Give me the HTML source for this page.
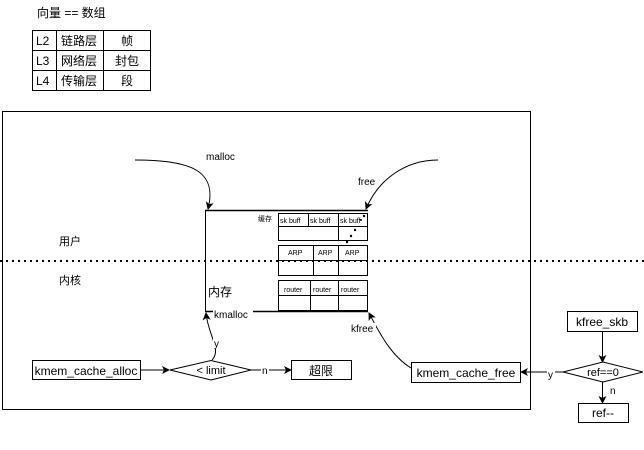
<!DOCTYPE html>
<html><head><meta charset="utf-8"><style>
html,body{margin:0;padding:0;background:#fff;}
svg{display:block;}
text{font-family:"Liberation Sans","Noto Sans CJK SC",sans-serif;fill:#000;}
</style></head><body>
<svg width="644" height="450" viewBox="0 0 644 450" xmlns="http://www.w3.org/2000/svg">
<defs>
<marker id="a" markerWidth="8" markerHeight="8" refX="7" refY="4" orient="auto" markerUnits="userSpaceOnUse">
<path d="M0,0 L8,4 L0,8 L2,4 Z" fill="#000"/>
</marker>
</defs>
<!-- top table -->
<text x="37" y="17" font-size="12">向量 == 数组</text>
<g fill="none" stroke="#000" stroke-width="1">
<rect x="32.5" y="30.5" width="118" height="60"/>
<line x1="32" y1="50.5" x2="151" y2="50.5"/>
<line x1="32" y1="70.5" x2="151" y2="70.5"/>
<line x1="56.5" y1="30" x2="56.5" y2="91"/>
<line x1="103.5" y1="30" x2="103.5" y2="91"/>
</g>
<g font-size="12">
<text x="36" y="45">L2</text><text x="61" y="45">链路层</text><text x="121" y="45">帧</text>
<text x="36" y="65">L3</text><text x="61" y="65">网络层</text><text x="115" y="65">封包</text>
<text x="36" y="85">L4</text><text x="61" y="85">传输层</text><text x="121" y="85">段</text>
</g>
<!-- outer box -->
<rect x="2.5" y="111.5" width="528" height="298" fill="none" stroke="#000"/>
<line x1="0" y1="261" x2="644" y2="261" stroke="#000" stroke-width="2" stroke-dasharray="2,4"/>
<text x="59" y="245" font-size="11">用户</text>
<text x="59" y="284" font-size="11">内核</text>
<!-- memory box -->
<g fill="none" stroke="#000">
<line x1="205" y1="210.5" x2="368" y2="210.5" stroke-width="1.5"/>
<line x1="205" y1="311.5" x2="368" y2="311.5" stroke-width="1.5"/>
<line x1="205.5" y1="210" x2="205.5" y2="312"/>
<rect x="278.5" y="213.5" width="89" height="27"/>
<line x1="278" y1="226.5" x2="368" y2="226.5"/>
<line x1="308.5" y1="213" x2="308.5" y2="227"/>
<line x1="338.5" y1="213" x2="338.5" y2="241"/>
<rect x="278.5" y="245.5" width="89" height="30"/>
<line x1="278" y1="260.5" x2="368" y2="260.5"/>
<line x1="313.5" y1="245" x2="313.5" y2="276"/>
<line x1="338.5" y1="245" x2="338.5" y2="276"/>
<rect x="278.5" y="280.5" width="89" height="30"/>
<line x1="278" y1="295.5" x2="368" y2="295.5"/>
<line x1="310.5" y1="280" x2="310.5" y2="311"/>
<line x1="338.5" y1="280" x2="338.5" y2="311"/>
</g>
<g font-size="7" fill="#333">
<text x="258" y="221">缓存</text>
<text x="280" y="223">sk  buff</text><text x="310" y="223">sk  buff</text><text x="340" y="223">sk  buff</text>
<text x="288" y="255">ARP</text><text x="318" y="255">ARP</text><text x="345" y="255">ARP</text>
<text x="284" y="292">router</text><text x="313" y="292">router</text><text x="341" y="292">router</text>
</g>
<g fill="#000"><circle cx="364" cy="216" r="1.2"/><circle cx="355" cy="230" r="1.2"/><circle cx="351" cy="236" r="1.2"/><circle cx="347" cy="242" r="1.2"/><circle cx="361" cy="220" r="1"/></g>
<text x="208" y="296" font-size="12">内存</text>
<!-- curves -->
<g fill="none" stroke="#000" stroke-width="1">
<path d="M135,160 C190,160 218,170 208,209" marker-end="url(#a)"/>
<path d="M438,160 C405,160 378,180 366,209" marker-end="url(#a)"/>
<path d="M212,360 C222,350 208,335 206,313" marker-end="url(#a)"/>
<path d="M411,368 C390,355 378,330 369,313" marker-end="url(#a)"/>
<line x1="141" y1="370" x2="169" y2="370" marker-end="url(#a)"/>
<line x1="251" y1="370" x2="291" y2="370" marker-end="url(#a)"/>
<line x1="563" y1="372" x2="521" y2="372" marker-end="url(#a)"/>
<line x1="602.5" y1="332" x2="602.5" y2="362" marker-end="url(#a)"/>
<line x1="602.5" y1="382" x2="602.5" y2="403" marker-end="url(#a)"/>
</g>
<text x="206" y="160" font-size="10">malloc</text>
<text x="358" y="185" font-size="10">free</text>
<rect x="213" y="308" width="40" height="11" fill="#fff"/>
<text x="214" y="318" font-size="10">kmalloc</text>
<rect x="350" y="323" width="26" height="11" fill="#fff"/>
<text x="351" y="332" font-size="10">kfree</text>
<rect x="213" y="338" width="8" height="11" fill="#fff"/>
<text x="214" y="347" font-size="10">y</text>
<rect x="261" y="365" width="8" height="10" fill="#fff"/>
<text x="262" y="374" font-size="10">n</text>
<rect x="547" y="367" width="8" height="11" fill="#fff"/>
<text x="548" y="378" font-size="10">y</text>
<text x="610" y="394" font-size="10">n</text>
<!-- boxes -->
<g fill="#fff" stroke="#000">
<rect x="32.5" y="360.5" width="108" height="19"/>
<polygon points="170,370 211,360.5 251,370 211,380"/>
<rect x="291.5" y="360.5" width="60" height="19"/>
<rect x="411.5" y="362.5" width="109" height="20"/>
<rect x="567.5" y="311.5" width="70" height="20"/>
<polygon points="563,372 603,362 643,372 603,382"/>
<rect x="578.5" y="403.5" width="50" height="19"/>
</g>
<g font-size="12" text-anchor="middle">
<text x="86" y="375">kmem_cache_alloc</text>
<text x="211" y="374" font-size="11">&lt; limit</text>
<text x="321" y="375">超限</text>
<text x="466" y="377">kmem_cache_free</text>
<text x="602" y="326">kfree_skb</text>
<text x="603" y="376" font-size="11">ref==0</text>
<text x="603" y="417">ref--</text>
</g>
</svg>
</body></html>
